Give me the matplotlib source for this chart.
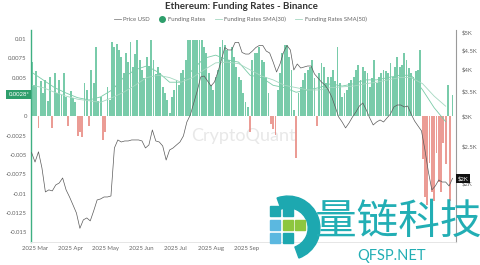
import numpy as np
import pandas as pd
import matplotlib
matplotlib.use("Agg")
import matplotlib.pyplot as plt
from matplotlib.lines import Line2D
from matplotlib.patches import Wedge, Rectangle

plt.rcParams['font.family'] = ['Lato', 'DejaVu Sans']

# funding rate, one bar every 2 days from 2025-02-26
funding = [
    0.0070, 0.0040, 0.0058, -0.0015, 0.0045, 0.0030, 0.0047, 0.0020, 0.0051, -0.0015,
    0.0056, 0.0030, 0.0047, 0.0028, 0.0056, 0.0025, -0.0012, 0.0032, 0.0024, 0.0018,
    -0.0025, -0.0020, -0.0027, 0.0043, 0.0034, -0.0012, 0.0060, 0.0043, 0.0090, 0.0020,
    0.0025, -0.0031, -0.0020, 0.0038, 0.0021, 0.0096, 0.0090, 0.0094, 0.0086, 0.0077,
    0.0056, 0.0082, 0.0070, 0.0096, 0.0064, 0.0080, 0.0099, 0.0073, 0.0060, 0.0050,
    0.0077, 0.0065, 0.0099, 0.0073, 0.0055, 0.0064, 0.0056, 0.0038, 0.0030, 0.0021,
    0.0004, 0.0025, 0.0034, 0.0047, 0.0040, 0.0056, 0.0060, 0.0073, 0.0099, 0.0099,
    0.0099, 0.0099, 0.0099, 0.0099, 0.0099, 0.0090, 0.0082, 0.0056, 0.0040, 0.0034,
    0.0051, 0.0060, 0.0090, 0.0099, 0.0092, 0.0086, 0.0073, 0.0090, 0.0077, 0.0064,
    0.0051, 0.0047, 0.0030, 0.0018, 0.0012, -0.0020, 0.0073, 0.0082, 0.0082, 0.0090,
    0.0073, 0.0070, 0.0051, 0.0030, -0.0010, -0.0016, -0.0024, 0.0034, 0.0056, 0.0082,
    0.0092, 0.0092, 0.0077, 0.0060, 0.0008, -0.0054, 0.0030, 0.0038, 0.0047, 0.0056,
    0.0060, 0.0064, 0.0073, 0.0050, -0.0012, 0.0056, 0.0069, 0.0064, 0.0043, 0.0051,
    0.0051, 0.0060, 0.0045, 0.0090, 0.0043, 0.0025, 0.0030, 0.0034, 0.0043, 0.0047,
    0.0051, 0.0060, 0.0066, 0.0047, 0.0064, 0.0058, 0.0056, 0.0038, 0.0050, 0.0073,
    0.0043, 0.0051, 0.0056, 0.0060, 0.0058, 0.0056, 0.0069, 0.0051, 0.0064, 0.0077,
    0.0064, 0.0066, 0.0082, 0.0073, 0.0062, 0.0056, 0.0051, 0.0058, 0.0060, 0.0086,
    -0.0055, -0.0105, -0.0115, -0.0060, -0.0098, -0.0110, -0.0048, -0.0085, -0.0098, -0.0034,
    -0.0062, 0.0040, -0.0110, 0.0028,
]

# ETH price, every 3 days from 2025-02-26
price_usd = [
    2408, 2274, 2420, 2194, 1896, 1920, 1908, 1978, 2002, 2064,
    1920, 1839, 1752, 1668, 1520, 1600, 1619, 1590, 1690, 1806,
    1817, 1839, 1839, 1850, 2477, 2601, 2569, 2585, 2585, 2601,
    2601, 2601, 2585, 2477, 2523, 2764, 2585, 2569, 2508, 2302,
    2447, 2477, 2523, 2569, 2665, 2901, 3027, 3257, 3503, 3814,
    3837, 3722, 3611, 3700, 3932, 4229, 4563, 4495, 4495, 4707,
    4707, 4427, 4385, 4385, 4466, 4563, 4620, 4620, 4466, 4412,
    4178, 3932, 4128, 4427, 4620, 4495, 3980, 4128, 4028, 4053,
    4078, 4078, 3884, 3791, 3700, 3633, 3524, 3378, 3178, 2991,
    2901, 2798, 2884, 2991, 3083, 3197, 3257, 3121, 2973, 2849,
    2901, 2937, 2901, 2973, 3045, 3178, 3217, 3217, 3178, 3197,
    3045, 2919, 2832, 2748, 2447, 2142, 1920, 1966, 2039, 2014,
    2014, 1966, 2060,
]

# moving averages, every 10 days from 2025-02-26
sma30 = [
    0.0057, 0.0047, 0.0037, 0.0030, 0.0024, 0.0021, 0.0025, 0.0034, 0.0050, 0.0060,
    0.0065, 0.0057, 0.0044, 0.0044, 0.0060, 0.0075, 0.0079, 0.0073, 0.0070, 0.0053,
    0.0050, 0.0040, 0.0037, 0.0031, 0.0034, 0.0037, 0.0042, 0.0039, 0.0042, 0.0047,
    0.0047, 0.0050, 0.0053, 0.0053, 0.0034, 0.0011, -0.0007,
]
sma50 = [
    0.0040, 0.0037, 0.0031, 0.0026, 0.0022, 0.0020, 0.0018, 0.0024, 0.0031, 0.0040,
    0.0050, 0.0053, 0.0050, 0.0044, 0.0050, 0.0060, 0.0069, 0.0070, 0.0068, 0.0060,
    0.0052, 0.0047, 0.0040, 0.0037, 0.0034, 0.0034, 0.0037, 0.0038, 0.0039, 0.0042,
    0.0044, 0.0047, 0.0050, 0.0050, 0.0042, 0.0026, 0.0013,
]

left_ticks = [0.01, 0.0075, 0.005, 0.0025, 0, -0.0025, -0.005, -0.0075, -0.01, -0.0125, -0.015]
left_labels = ['0.01', '0.0075', '0.005', '0.0025', '0', '-0.0025', '-0.005', '-0.0075', '-0.01', '-0.0125', '-0.015']
right_ticks = [5000, 4500, 4000, 3500, 3000, 2500, 2000]
right_labels = ['$5K', '$4.5K', '$4K', '$3.5K', '$3K', '$2.5K', '$2K']
month_ticks = ['2025-03-01', '2025-04-01', '2025-05-01', '2025-06-01', '2025-07-01', '2025-08-01', '2025-09-01']
month_labels = ['2025 Mar', '2025 Apr', '2025 May', '2025 Jun', '2025 Jul', '2025 Aug', '2025 Sep']

start = '2025-02-26'
f_dates = pd.date_range(start, periods=len(funding), freq='2D')
p_dates = pd.date_range(start, periods=len(price_usd), freq='3D')
s_dates = pd.date_range(start, periods=len(sma30), freq='10D')

green = '#58BE95'
red = '#E6837B'
fund = np.array(funding)

fig = plt.figure(figsize=(4.8, 2.65), dpi=100)
ax = fig.add_axes([0.0646, 0.087, 0.8854, 0.80])
ax.bar(f_dates, fund, width=1.6, color=np.where(fund >= 0, green, red), alpha=0.8, linewidth=0)
ax.plot(s_dates, sma30, color='#7ACBA8', lw=0.6)
ax.plot(s_dates, sma50, color='#A5D8C1', lw=0.6)
ax.set_ylim(-0.01626, 0.01116)
ax.set_xlim(pd.Timestamp('2025-02-25 12:00'), pd.Timestamp('2026-03-02'))
ax.set_yticks(left_ticks)
ax.set_yticklabels(left_labels)
ax.set_xticks(pd.to_datetime(month_ticks))
ax.set_xticklabels(month_labels)
ax.tick_params(axis='both', length=0, labelsize=4.3, colors='#666666', pad=3)

ax2 = ax.twinx()
ax2.plot(p_dates, price_usd, color='#5a5a5a', lw=0.5)
ax2.set_yscale('log')
ax2.set_ylim(1399, 5077)
ax2.set_yticks(right_ticks)
ax2.set_yticklabels(right_labels)
ax2.yaxis.set_minor_locator(matplotlib.ticker.NullLocator())
ax2.tick_params(axis='y', length=0, labelsize=4.3, colors='#666666', pad=4)

for a in (ax, ax2):
    a.spines['top'].set_visible(False)
    a.spines['left'].set_visible(False)
    a.spines['right'].set_visible(False)
    a.spines['bottom'].set_color('#e6e6e6')
    a.spines['bottom'].set_linewidth(0.6)
ax.spines['left'].set_visible(True)
ax.spines['left'].set_color('#3FAF82')
ax.spines['left'].set_linewidth(1.0)
ax2.spines['right'].set_visible(True)
ax2.spines['right'].set_color('#9a9a9a')
ax2.spines['right'].set_linewidth(0.8)

# current value markers
ax.text(-0.004, funding[-1], '0.0028*', transform=ax.get_yaxis_transform(), ha='right', va='center',
        fontsize=4.3, color='white', zorder=10,
        bbox=dict(boxstyle='square,pad=0.35', fc='#2E9E6B', ec='none'))
ax2.text(1.004, price_usd[-1], '$2K', transform=ax2.get_yaxis_transform(), ha='left', va='center',
         fontsize=4.3, color='white', zorder=10,
         bbox=dict(boxstyle='square,pad=0.3', fc='#111111', ec='none'))

fig.text(0.502, 0.975, 'Ethereum: Funding Rates - Binance', ha='center', va='center',
         fontsize=7, fontweight='bold', color='#333333')
handles = [
    Line2D([], [], color='#888888', lw=0.6),
    Line2D([], [], color='#2E9E6B', marker='o', ls='none', markersize=4),
    Line2D([], [], color='#A5D8C1', lw=0.6),
    Line2D([], [], color='#A5D8C1', lw=0.6),
]
fig.legend(handles, ['Price USD', 'Funding Rates', 'Funding Rates SMA(30)', 'Funding Rates SMA(50)'],
           loc='center', bbox_to_anchor=(0.5, 0.928), ncol=4, frameon=False, fontsize=4.3,
           handlelength=1.2, handletextpad=0.4, columnspacing=1.5, labelcolor='#666666')

# watermarks
ax.text(0.5, -0.0025, 'CryptoQuant', transform=ax.get_yaxis_transform(), ha='center', va='center',
        fontsize=13, color='#e8e8e8', zorder=0)
fig.text(398 / 480, 1 - 222 / 265, '量链科技', ha='center', va='center', fontsize=30,
         color='#22AEB4', fontweight='medium', family=['Noto Sans CJK SC', 'DejaVu Sans'])
fig.text(392 / 480, 1 - 256 / 265, 'QFSP.NET', ha='center', va='center', fontsize=10.5,
         color='#22AEB4')
cx, cy = 288 / 480, 1 - 228 / 265
logo = fig.add_axes([cx - 0.07, cy - 0.13, 0.14, 0.26])
logo.set_xlim(-1, 1)
logo.set_ylim(-1, 1)
logo.set_aspect('equal')
logo.axis('off')
logo.add_patch(Wedge((0, 0), 0.95, -70, 110, width=0.35, color='#1DA8B0'))
for (sx, sy, sc) in [(-0.55, 0.35, '#1DA8B0'), (-0.15, 0.35, '#1DA8B0'), (-0.55, -0.05, '#5BB8E0'),
                     (-0.15, -0.05, '#8DC63F'), (0.2, -0.05, '#8DC63F'), (-0.15, -0.45, '#1DA8B0'),
                     (-0.55, -0.45, '#5BB8E0')]:
    logo.add_patch(Rectangle((sx, sy), 0.3, 0.3, color=sc))

fig.savefig('out.png', dpi=100)
